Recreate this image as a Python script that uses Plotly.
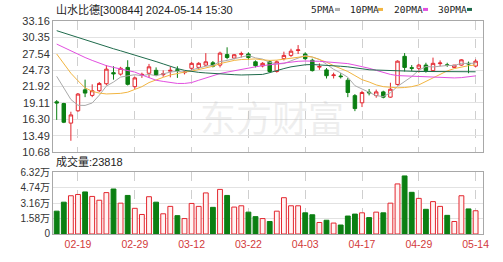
import plotly.graph_objects as go

dates = ["02-06", "02-07", "02-08", "02-19", "02-20", "02-21", "02-22", "02-23", "02-26", "02-27",
         "02-28", "02-29", "03-01", "03-04", "03-05", "03-06", "03-07", "03-08", "03-11", "03-12",
         "03-13", "03-14", "03-15", "03-18", "03-19", "03-20", "03-21", "03-22", "03-25", "03-26",
         "03-27", "03-28", "03-29", "04-01", "04-02", "04-03", "04-08", "04-09", "04-10", "04-11",
         "04-12", "04-15", "04-16", "04-17", "04-18", "04-19", "04-22", "04-23", "04-24", "04-25",
         "04-26", "04-29", "04-30", "05-06", "05-07", "05-08", "05-09", "05-10", "05-13", "05-14"]

opens = [19.3, 19.0, 15.65, 17.76, 21.35, 20.4, 21.2, 22.4, 24.3, 24.05,
         25.2, 21.9, 23.85, 24.2, 24.7, 23.95, 24.55, 24.8, 24.3, 25.05,
         25.2, 25.6, 26.0, 25.6, 27.4, 26.8, 27.45, 27.5, 26.16, 25.45,
         26.16, 24.5, 26.7, 27.26, 28.1, 27.5, 26.43, 25.25, 24.77, 23.8,
         23.72, 23.0, 20.36, 19.13, 20.95, 20.37, 21.0, 20.1, 22.28, 27.1,
         25.15, 25.05, 25.6, 24.65, 25.85, 25.65, 25.2, 25.6, 25.9, 25.43]
highs = [19.6, 19.13, 17.6, 20.8, 23.1, 22.3, 22.7, 25.6, 25.4, 25.3,
         26.43, 23.6, 24.3, 25.8, 25.2, 24.7, 25.3, 25.4, 24.6, 26.1,
         26.1, 27.65, 26.3, 27.9, 28.65, 27.5, 27.9, 27.8, 26.4, 26.1,
         26.4, 26.4, 27.9, 28.4, 29.03, 27.8, 26.7, 25.9, 25.1, 24.3,
         24.2, 23.4, 20.63, 21.2, 21.5, 21.4, 21.2, 22.57, 26.4, 27.66,
         25.6, 25.8, 26.0, 26.88, 26.4, 26.0, 25.6, 26.6, 26.2, 26.6]
lows = [16.2, 15.65, 12.62, 17.6, 20.1, 20.1, 21.0, 22.12, 23.1, 23.8,
        22.1, 21.5, 23.4, 23.4, 23.7, 23.6, 23.5, 23.4, 24.0, 24.7,
        24.85, 25.4, 25.2, 25.2, 26.6, 26.6, 26.9, 26.5, 25.2, 25.2,
        24.3, 24.3, 26.4, 27.0, 27.5, 26.5, 24.5, 24.8, 23.3, 23.3,
        23.3, 20.1, 17.7, 18.4, 20.4, 20.0, 19.9, 20.0, 22.1, 24.5,
        24.6, 24.3, 24.3, 24.5, 25.4, 25.3, 25.1, 25.5, 24.2, 25.2]
closes = [19.1, 15.8, 17.05, 20.63, 20.8, 21.2, 22.45, 24.9, 24.1, 25.05,
          22.3, 23.4, 24.0, 25.3, 23.9, 24.1, 24.7, 24.7, 24.4, 25.9,
          25.9, 26.16, 25.4, 27.65, 26.9, 27.37, 27.55, 26.9, 25.5, 25.9,
          24.5, 26.16, 27.26, 27.98, 28.2, 26.7, 24.65, 25.35, 23.78, 23.9,
          23.62, 20.9, 18.14, 20.9, 20.85, 21.0, 20.1, 21.46, 26.27, 25.2,
          25.05, 25.6, 24.65, 25.9, 25.95, 25.55, 25.6, 26.5, 25.8, 26.27]

volumes = [23400, 32600, 39200, 40500, 43100, 38500, 34600, 42400, 46100, 31600,
           39500, 26300, 20000, 38200, 32600, 20700, 28300, 18800, 15800, 31300,
           28300, 42100, 27300, 45700, 39500, 27600, 28900, 22400, 17800, 15800,
           12800, 23400, 37200, 28900, 28900, 21700, 19700, 11800, 14100, 11200,
           9200, 18400, 20400, 21700, 16800, 22400, 21700, 31600, 51300, 59500,
           42700, 36500, 25300, 33200, 28300, 19100, 12800, 39200, 25700, 23818]

ma5 = [23.67, 21.7, 19.7, 18.7, 18.68, 19.1, 20.43, 22.0, 22.69, 23.54,
       23.76, 23.95, 23.77, 24.01, 23.78, 24.14, 24.4, 24.54, 24.36, 24.76,
       25.12, 25.41, 25.55, 26.2, 26.4, 26.7, 26.97, 27.26, 26.83, 26.63,
       26.06, 25.79, 25.86, 26.36, 26.82, 27.26, 26.96, 26.58, 25.74, 24.88,
       24.26, 23.51, 22.07, 21.49, 20.88, 20.36, 20.2, 20.86, 21.94, 22.81,
       23.62, 24.72, 25.35, 25.28, 25.43, 25.53, 25.53, 25.9, 25.88, 25.94]
ma10 = [27.5, 25.9, 24.2, 22.9, 21.7, 21.1, 20.8, 20.65, 20.65, 20.75,
        20.95, 21.4, 21.9, 22.6, 23.1, 23.5, 23.9, 24.2, 24.4, 24.55,
        24.8, 25.05, 25.4, 25.85, 26.15, 26.4, 26.55, 26.65, 26.65, 26.5,
        26.4, 26.45, 26.6, 26.85, 27.0, 27.1, 27.0, 26.6, 26.1, 25.5,
        25.0, 24.5, 23.8, 23.1, 22.7, 22.2, 21.9, 21.75, 21.7, 21.75,
        21.9, 22.2, 22.8, 23.4, 24.0, 24.6, 25.0, 25.3, 25.5, 25.6]
ma20 = [29.2, 28.6, 28.1, 27.5, 26.9, 26.4, 25.9, 25.5, 25.2, 24.9,
        24.7, 24.4, 23.9, 23.4, 23.0, 22.8, 22.6, 22.45, 22.45, 22.6,
        23.0, 23.4, 23.8, 24.15, 24.4, 24.65, 24.85, 25.1, 25.3, 25.5,
        25.65, 25.85, 26.0, 26.15, 26.25, 26.3, 26.3, 26.25, 26.15, 26.05,
        25.95, 25.85, 25.6, 25.35, 25.05, 24.7, 24.3, 24.0, 23.8, 23.75,
        23.7, 23.7, 23.65, 23.6, 23.5, 23.4, 23.4, 23.45, 23.6, 23.75]
ma30 = [31.5, 31.1, 30.7, 30.3, 29.9, 29.5, 29.15, 28.8, 28.4, 28.05,
        27.7, 27.35, 27.0, 26.6, 26.2, 25.8, 25.35, 25.0, 24.7, 24.5,
        24.35, 24.25, 24.15, 24.1, 24.0, 23.95, 23.9, 23.9, 23.9, 24.0,
        24.3, 24.7, 25.0, 25.3, 25.5, 25.65, 25.7, 25.65, 25.6, 25.5,
        25.4, 25.3, 25.1, 24.95, 24.8, 24.75, 24.7, 24.65, 24.55, 24.5,
        24.5, 24.5, 24.5, 24.5, 24.45, 24.45, 24.45, 24.45, 24.45, 24.45]

price_ticks = [10.68, 13.49, 16.30, 19.11, 21.92, 24.73, 27.54, 30.35, 33.16]
vol_ticks = [0, 15800, 31600, 47400, 63200]
vol_tick_text = ["0", "1.58万", "3.16万", "4.74万", "6.32万"]
date_ticks = ["02-19", "02-29", "03-12", "03-22", "04-03", "04-17", "04-29", "05-14"]
ma_names = ["5PMA", "10PMA", "20PMA", "30PMA"]
title_text = "山水比德[300844] 2024-05-14 15:30"
vol_label = "成交量:23818"

RED = "#e3262e"
GREEN = "#0b7f12"
MA_COLORS = ["#aaaaaa", "#f2b541", "#e24fe0", "#1f6b4c"]

W, H = 503, 262
L, R, T, B = 53, 20, 21, 20
PW, PH = W - L - R, H - T - B


def px(x):
    return (x - L) / PW


def py(y):
    return (H - B - y) / PH


fig = go.Figure()

for name, vals, col in zip(ma_names, [ma5, ma10, ma20, ma30], MA_COLORS):
    fig.add_trace(go.Scatter(x=dates, y=vals, mode="lines", name=name,
                             line=dict(color=col, width=1), xaxis="x", yaxis="y",
                             showlegend=False, hoverinfo="skip"))

fig.add_trace(go.Candlestick(
    x=dates, open=opens, high=highs, low=lows, close=closes,
    increasing=dict(line=dict(color=RED, width=1), fillcolor="#ffffff"),
    decreasing=dict(line=dict(color=GREEN, width=1), fillcolor=GREEN),
    whiskerwidth=0, xaxis="x", yaxis="y", showlegend=False))

up = [c >= o for o, c in zip(opens, closes)]
fig.add_trace(go.Bar(
    x=dates, y=volumes, xaxis="x2", yaxis="y2", width=0.68,
    marker=dict(color=["#fff4f4" if u else GREEN for u in up],
                line=dict(color=[RED if u else GREEN for u in up], width=1)),
    showlegend=False))

main_bottom = py(157)
vol_top = py(178)

axis_common = dict(type="category", range=[-0.52, 60.04], tickvals=date_ticks,
                   showgrid=True, gridcolor="#cfcfcf", griddash="dash", gridwidth=1,
                   showline=True, linecolor="#a8a8a8", mirror=True, ticks="",
                   fixedrange=True)

fig.update_layout(
    width=W, height=H, margin=dict(l=L, r=R, t=T, b=B),
    paper_bgcolor="white", plot_bgcolor="white",
    bargap=0.3,
    xaxis=dict(axis_common, anchor="y", showticklabels=False,
               rangeslider=dict(visible=False)),
    xaxis2=dict(axis_common, anchor="y2", matches="x", showticklabels=True,
                tickfont=dict(family="Liberation Sans", size=10.5, color="#d23a3a")),
    yaxis=dict(domain=[main_bottom, 1], range=[10.68, 33.16], tickvals=price_ticks,
               ticktext=[f"{v:.2f}" for v in price_ticks],
               tickfont=dict(family="Liberation Sans", size=11, color="#333333"),
               showgrid=True, gridcolor="#e2e2e2", showline=True, linecolor="#a8a8a8",
               mirror=True, ticks="", zeroline=False),
    yaxis2=dict(domain=[0, vol_top], range=[0, 63200], tickvals=vol_ticks,
                ticktext=vol_tick_text,
                tickfont=dict(family="Liberation Sans, Noto Sans CJK SC", size=10, color="#333333"),
                showgrid=True, gridcolor="#e2e2e2", showline=True, linecolor="#a8a8a8",
                mirror=True, ticks="", zeroline=False),
)

annotations = [
    dict(text="东方财富", x=px(272), y=py(90), xref="paper", yref="paper",
         showarrow=False, font=dict(family="Noto Sans CJK SC", size=36,
                                    color="rgba(190,190,190,0.25)")),
    dict(text=title_text, x=px(54), y=py(9), xref="paper", yref="paper",
         xanchor="left", yanchor="middle", showarrow=False,
         font=dict(family="Liberation Sans, Noto Sans CJK SC", size=11, color="#222222")),
    dict(text=vol_label, x=px(54), y=py(167), xref="paper", yref="paper",
         xanchor="left", yanchor="middle", showarrow=False,
         font=dict(family="Liberation Sans, Noto Sans CJK SC", size=11, color="#222222")),
]
legend_x = [309, 348, 392, 436]
dash_x = [335, 378, 423, 467]
shapes = []
for name, lx, dx, col in zip(ma_names, legend_x, dash_x, MA_COLORS):
    annotations.append(dict(text=name, x=px(lx), y=py(9), xref="paper", yref="paper",
                            xanchor="left", yanchor="middle", showarrow=False,
                            font=dict(family="DejaVu Sans Mono", size=9.5, color="#222222")))
    shapes.append(dict(type="line", xref="paper", yref="paper",
                       x0=px(dx), x1=px(dx + 5), y0=py(9), y1=py(9),
                       line=dict(color=col, width=3)))

fig.update_layout(annotations=annotations, shapes=shapes)

fig.write_html("out.html")
